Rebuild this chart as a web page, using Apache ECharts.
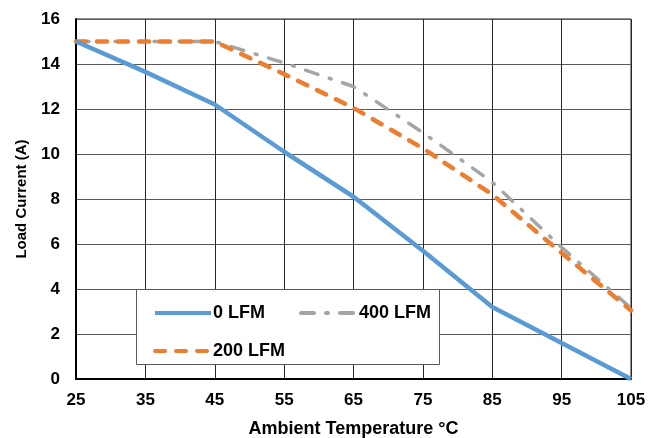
<!DOCTYPE html>
<html><head><meta charset="utf-8">
<script src="https://cdn.jsdelivr.net/npm/echarts@6/dist/echarts.min.js"></script>
<style>html,body{margin:0;padding:0;background:#fff;overflow:hidden}#c{width:660px;height:438px}</style>
</head><body><div id="c"></div>
<script>
var temps = ['25','35','45','55','65','75','85','95','105'];
var lfm0 = [15, 13.65, 12.2, 10.1, 8.1, 5.7, 3.2, 1.6, 0];
var lfm200 = [15, 15, 15, 13.55, 12.05, 10.25, 8.2, 5.6, 3.05];
var lfm400 = [15, 15, 15, 14.05, 13.0, 10.95, 8.75, 5.85, 3.15];
var yTicks = [0, 2, 4, 6, 8, 10, 12, 14, 16];

var FONT = '"Liberation Sans", Arial, sans-serif';
var chart = echarts.init(document.getElementById('c'), null, {renderer: 'canvas', width: 660, height: 438});
var legendText = {fontFamily: FONT, fontWeight: 'bold', fontSize: 18, color: '#000', padding: [0,0,0,-3]};
chart.setOption({
  animation: false,
  backgroundColor: '#fff',
  grid: {left: 76, right: 29, top: 19, bottom: 59, containLabel: false, outerBoundsMode: 'none',
         show: true, borderColor: '#262626', borderWidth: 1},
  xAxis: {
    type: 'category', data: temps, boundaryGap: false,
    name: 'Ambient Temperature \u00b0C', nameLocation: 'middle', nameGap: 41,
    nameTextStyle: {fontFamily: FONT, fontWeight: 'bold', fontSize: 18, color: '#000'},
    axisLine: {lineStyle: {color: '#000', width: 2}},
    axisTick: {show: false},
    axisLabel: {fontFamily: FONT, fontWeight: 'bold', fontSize: 17, color: '#000', margin: 13},
    splitLine: {show: true, lineStyle: {color: '#262626', width: 1}}
  },
  yAxis: {
    type: 'value', min: yTicks[0], max: yTicks[yTicks.length-1], interval: 2,
    name: 'Load Current (A)', nameLocation: 'middle', nameGap: 47,
    nameTextStyle: {fontFamily: FONT, fontWeight: 'bold', fontSize: 15, color: '#000'},
    axisLine: {show: true, lineStyle: {color: '#000', width: 2}},
    axisTick: {show: false},
    axisLabel: {fontFamily: FONT, fontWeight: 'bold', fontSize: 17, color: '#000', margin: 16},
    splitLine: {show: true, lineStyle: {color: '#595959', width: 1}}
  },
  legend: [{
    data: ['0 LFM', '400 LFM'], left: 148, top: 299, itemWidth: 56, itemHeight: 14, itemGap: 34, z: 10,
    itemStyle: {opacity: 0}, lineStyle: {width: 4},
    textStyle: legendText
  }, {
    data: ['200 LFM'], left: 148, top: 337, itemWidth: 56, itemHeight: 14, z: 10,
    itemStyle: {opacity: 0}, lineStyle: {width: 4},
    textStyle: legendText
  }],
  graphic: [{
    type: 'rect', left: 136, top: 289, z: 5,
    shape: {width: 303, height: 75},
    style: {fill: '#fff', stroke: '#595959', lineWidth: 1}
  }],
  series: [{
    name: '400 LFM', type: 'line', data: lfm400, showSymbol: false, symbol: 'none', z: 2,
    lineStyle: {color: '#A5A5A5', width: 3.5, type: [13, 12, 2, 12], cap: 'round'},
    itemStyle: {color: '#A5A5A5'}
  }, {
    name: '200 LFM', type: 'line', data: lfm200, showSymbol: false, symbol: 'none', z: 3,
    lineStyle: {color: '#ED7D31', width: 4.5, type: [10, 11], cap: 'round'},
    itemStyle: {color: '#ED7D31'}
  }, {
    name: '0 LFM', type: 'line', data: lfm0, showSymbol: false, symbol: 'none', z: 4,
    lineStyle: {color: '#5B9BD5', width: 4.5},
    itemStyle: {color: '#5B9BD5'}
  }]
});
</script></body></html>
